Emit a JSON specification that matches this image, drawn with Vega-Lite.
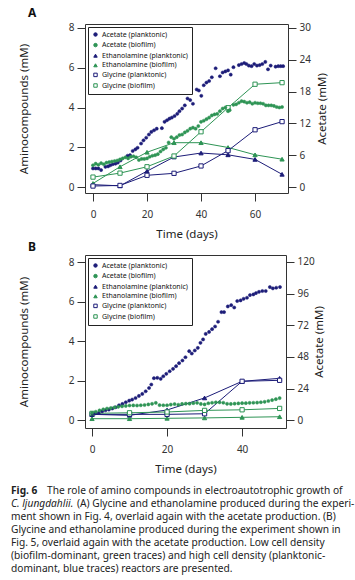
{
  "$schema": "https://vega.github.io/schema/vega-lite/v6.json",
  "background": "white",
  "padding": {"left": 11, "top": 6, "right": 5, "bottom": 3},
  "spacing": 0,
  "datasets": {
    "acetA": [
      {"series":"Acetate (planktonic)","day":0,"value":3.5},{"series":"Acetate (planktonic)","day":1,"value":3.5},{"series":"Acetate (planktonic)","day":2,"value":3.5},{"series":"Acetate (planktonic)","day":3,"value":3.2},{"series":"Acetate (planktonic)","day":4.6,"value":3.8},{"series":"Acetate (planktonic)","day":5.6,"value":3.9},{"series":"Acetate (planktonic)","day":6.4,"value":4.1},{"series":"Acetate (planktonic)","day":7.3,"value":4.3},{"series":"Acetate (planktonic)","day":8.3,"value":4.4},{"series":"Acetate (planktonic)","day":9.2,"value":4.6},{"series":"Acetate (planktonic)","day":10.2,"value":5.0},{"series":"Acetate (planktonic)","day":12.8,"value":5.9},{"series":"Acetate (planktonic)","day":13.7,"value":6.0},{"series":"Acetate (planktonic)","day":14.7,"value":6.8},{"series":"Acetate (planktonic)","day":15.7,"value":7.1},{"series":"Acetate (planktonic)","day":16.5,"value":7.4},{"series":"Acetate (planktonic)","day":17.8,"value":8.2},{"series":"Acetate (planktonic)","day":18.7,"value":8.8},{"series":"Acetate (planktonic)","day":19.7,"value":9.3},{"series":"Acetate (planktonic)","day":20.7,"value":9.9},{"series":"Acetate (planktonic)","day":21.6,"value":10.4},{"series":"Acetate (planktonic)","day":22.6,"value":10.7},{"series":"Acetate (planktonic)","day":23.6,"value":11.0},{"series":"Acetate (planktonic)","day":25.5,"value":11.1},{"series":"Acetate (planktonic)","day":26.5,"value":12.3},{"series":"Acetate (planktonic)","day":27.4,"value":12.6},{"series":"Acetate (planktonic)","day":28.3,"value":12.9},{"series":"Acetate (planktonic)","day":29.2,"value":13.1},{"series":"Acetate (planktonic)","day":30.2,"value":13.4},{"series":"Acetate (planktonic)","day":31.2,"value":13.8},{"series":"Acetate (planktonic)","day":32,"value":14.3},{"series":"Acetate (planktonic)","day":33,"value":14.8},{"series":"Acetate (planktonic)","day":34,"value":15.4},{"series":"Acetate (planktonic)","day":35,"value":16.7},{"series":"Acetate (planktonic)","day":36,"value":16.4},{"series":"Acetate (planktonic)","day":37,"value":15.7},{"series":"Acetate (planktonic)","day":38.4,"value":18.4},{"series":"Acetate (planktonic)","day":39.2,"value":18.2},{"series":"Acetate (planktonic)","day":40.1,"value":17.2},{"series":"Acetate (planktonic)","day":41,"value":19.2},{"series":"Acetate (planktonic)","day":42,"value":19.7},{"series":"Acetate (planktonic)","day":43,"value":20.0},{"series":"Acetate (planktonic)","day":44,"value":20.7},{"series":"Acetate (planktonic)","day":45.4,"value":22.4},{"series":"Acetate (planktonic)","day":47,"value":20.9},{"series":"Acetate (planktonic)","day":48,"value":21.6},{"series":"Acetate (planktonic)","day":49,"value":21.8},{"series":"Acetate (planktonic)","day":50,"value":22.0},{"series":"Acetate (planktonic)","day":51,"value":21.2},{"series":"Acetate (planktonic)","day":52,"value":22.6},{"series":"Acetate (planktonic)","day":54,"value":23.0},{"series":"Acetate (planktonic)","day":55,"value":23.2},{"series":"Acetate (planktonic)","day":56,"value":23.4},{"series":"Acetate (planktonic)","day":56.8,"value":23.2},{"series":"Acetate (planktonic)","day":57.7,"value":22.9},{"series":"Acetate (planktonic)","day":58.7,"value":22.8},{"series":"Acetate (planktonic)","day":59.7,"value":23.2},{"series":"Acetate (planktonic)","day":60.7,"value":22.9},{"series":"Acetate (planktonic)","day":61.7,"value":23.0},{"series":"Acetate (planktonic)","day":62.7,"value":23.2},{"series":"Acetate (planktonic)","day":63.8,"value":23.6},{"series":"Acetate (planktonic)","day":64.8,"value":22.2},{"series":"Acetate (planktonic)","day":65.8,"value":22.9},{"series":"Acetate (planktonic)","day":67.6,"value":22.7},{"series":"Acetate (planktonic)","day":68.6,"value":22.8},{"series":"Acetate (planktonic)","day":69.5,"value":22.8},{"series":"Acetate (planktonic)","day":70.4,"value":22.8},
      {"series":"Acetate (biofilm)","day":0,"value":4.1},{"series":"Acetate (biofilm)","day":1,"value":4.4},{"series":"Acetate (biofilm)","day":2,"value":4.2},{"series":"Acetate (biofilm)","day":3,"value":4.5},{"series":"Acetate (biofilm)","day":4,"value":4.3},{"series":"Acetate (biofilm)","day":5,"value":4.6},{"series":"Acetate (biofilm)","day":6,"value":4.7},{"series":"Acetate (biofilm)","day":7,"value":4.8},{"series":"Acetate (biofilm)","day":8,"value":4.9},{"series":"Acetate (biofilm)","day":9,"value":5.0},{"series":"Acetate (biofilm)","day":10,"value":5.2},{"series":"Acetate (biofilm)","day":11,"value":5.4},{"series":"Acetate (biofilm)","day":12,"value":5.6},{"series":"Acetate (biofilm)","day":13,"value":5.4},{"series":"Acetate (biofilm)","day":14,"value":5.7},{"series":"Acetate (biofilm)","day":15,"value":5.8},{"series":"Acetate (biofilm)","day":16,"value":5.6},{"series":"Acetate (biofilm)","day":17,"value":5.1},{"series":"Acetate (biofilm)","day":18,"value":5.3},{"series":"Acetate (biofilm)","day":19,"value":5.3},{"series":"Acetate (biofilm)","day":20,"value":5.4},{"series":"Acetate (biofilm)","day":21,"value":5.7},{"series":"Acetate (biofilm)","day":22,"value":5.9},{"series":"Acetate (biofilm)","day":23,"value":6.0},{"series":"Acetate (biofilm)","day":24,"value":6.2},{"series":"Acetate (biofilm)","day":25,"value":6.7},{"series":"Acetate (biofilm)","day":26,"value":7.1},{"series":"Acetate (biofilm)","day":27,"value":7.4},{"series":"Acetate (biofilm)","day":28,"value":8.4},{"series":"Acetate (biofilm)","day":29,"value":9.4},{"series":"Acetate (biofilm)","day":30,"value":9.1},{"series":"Acetate (biofilm)","day":31,"value":9.4},{"series":"Acetate (biofilm)","day":32,"value":9.8},{"series":"Acetate (biofilm)","day":33,"value":9.9},{"series":"Acetate (biofilm)","day":34,"value":10.3},{"series":"Acetate (biofilm)","day":35,"value":10.6},{"series":"Acetate (biofilm)","day":36,"value":11.0},{"series":"Acetate (biofilm)","day":37,"value":11.2},{"series":"Acetate (biofilm)","day":38,"value":11.0},{"series":"Acetate (biofilm)","day":39,"value":11.5},{"series":"Acetate (biofilm)","day":40,"value":12.3},{"series":"Acetate (biofilm)","day":41,"value":12.5},{"series":"Acetate (biofilm)","day":42,"value":12.8},{"series":"Acetate (biofilm)","day":43,"value":13.1},{"series":"Acetate (biofilm)","day":44,"value":13.5},{"series":"Acetate (biofilm)","day":45,"value":13.7},{"series":"Acetate (biofilm)","day":46,"value":13.8},{"series":"Acetate (biofilm)","day":47,"value":14.3},{"series":"Acetate (biofilm)","day":48,"value":14.8},{"series":"Acetate (biofilm)","day":49,"value":15.0},{"series":"Acetate (biofilm)","day":50,"value":14.3},{"series":"Acetate (biofilm)","day":50.6,"value":14.5},{"series":"Acetate (biofilm)","day":52,"value":15.5},{"series":"Acetate (biofilm)","day":53,"value":15.6},{"series":"Acetate (biofilm)","day":54,"value":15.9},{"series":"Acetate (biofilm)","day":55,"value":16.2},{"series":"Acetate (biofilm)","day":56,"value":16.1},{"series":"Acetate (biofilm)","day":57,"value":15.9},{"series":"Acetate (biofilm)","day":58,"value":16.0},{"series":"Acetate (biofilm)","day":59,"value":15.7},{"series":"Acetate (biofilm)","day":60,"value":15.9},{"series":"Acetate (biofilm)","day":61,"value":15.8},{"series":"Acetate (biofilm)","day":62,"value":15.8},{"series":"Acetate (biofilm)","day":63,"value":15.7},{"series":"Acetate (biofilm)","day":64,"value":15.4},{"series":"Acetate (biofilm)","day":65,"value":15.4},{"series":"Acetate (biofilm)","day":66,"value":15.4},{"series":"Acetate (biofilm)","day":67,"value":15.3},{"series":"Acetate (biofilm)","day":68,"value":15.1},{"series":"Acetate (biofilm)","day":69,"value":15.0},{"series":"Acetate (biofilm)","day":70,"value":15.1}
    ],
    "aminoA": [
      {"series":"Ethanolamine (planktonic)","day":0,"value":0.12},{"series":"Ethanolamine (planktonic)","day":10,"value":0.06},{"series":"Ethanolamine (planktonic)","day":20,"value":0.8},{"series":"Ethanolamine (planktonic)","day":30,"value":1.51},{"series":"Ethanolamine (planktonic)","day":40,"value":1.71},{"series":"Ethanolamine (planktonic)","day":50,"value":1.62},{"series":"Ethanolamine (planktonic)","day":60,"value":1.39},{"series":"Ethanolamine (planktonic)","day":70,"value":0.64},
      {"series":"Ethanolamine (biofilm)","day":0,"value":0.18},{"series":"Ethanolamine (biofilm)","day":10,"value":1.02},{"series":"Ethanolamine (biofilm)","day":20,"value":1.75},{"series":"Ethanolamine (biofilm)","day":30,"value":2.23},{"series":"Ethanolamine (biofilm)","day":40,"value":2.23},{"series":"Ethanolamine (biofilm)","day":50,"value":1.99},{"series":"Ethanolamine (biofilm)","day":60,"value":1.62},{"series":"Ethanolamine (biofilm)","day":70,"value":1.4},
      {"series":"Glycine (planktonic)","day":0,"value":0.05},{"series":"Glycine (planktonic)","day":10,"value":0.08},{"series":"Glycine (planktonic)","day":20,"value":0.59},{"series":"Glycine (planktonic)","day":30,"value":0.69},{"series":"Glycine (planktonic)","day":40,"value":1.06},{"series":"Glycine (planktonic)","day":50,"value":1.83},{"series":"Glycine (planktonic)","day":60,"value":2.88},{"series":"Glycine (planktonic)","day":70,"value":3.29},
      {"series":"Glycine (biofilm)","day":0,"value":0.5},{"series":"Glycine (biofilm)","day":10,"value":0.7},{"series":"Glycine (biofilm)","day":20,"value":1.02},{"series":"Glycine (biofilm)","day":30,"value":1.56},{"series":"Glycine (biofilm)","day":40,"value":2.78},{"series":"Glycine (biofilm)","day":50,"value":3.99},{"series":"Glycine (biofilm)","day":60,"value":5.17},{"series":"Glycine (biofilm)","day":70,"value":5.25}
    ],
    "acetB": [
      {"series":"Acetate (planktonic)","day":0.1,"value":4.8},{"series":"Acetate (planktonic)","day":0.9,"value":5.3},{"series":"Acetate (planktonic)","day":1.8,"value":5.6},{"series":"Acetate (planktonic)","day":2.7,"value":6.8},{"series":"Acetate (planktonic)","day":3.6,"value":7.6},{"series":"Acetate (planktonic)","day":4.5,"value":8.1},{"series":"Acetate (planktonic)","day":5.4,"value":8.9},{"series":"Acetate (planktonic)","day":6.3,"value":9.9},{"series":"Acetate (planktonic)","day":7.2,"value":11.4},{"series":"Acetate (planktonic)","day":8.1,"value":12.4},{"series":"Acetate (planktonic)","day":9,"value":13.7},{"series":"Acetate (planktonic)","day":9.9,"value":14.9},{"series":"Acetate (planktonic)","day":10.7,"value":15.7},{"series":"Acetate (planktonic)","day":11.6,"value":16.9},{"series":"Acetate (planktonic)","day":12.5,"value":18.5},{"series":"Acetate (planktonic)","day":13.4,"value":20.0},{"series":"Acetate (planktonic)","day":14.3,"value":22.0},{"series":"Acetate (planktonic)","day":15.2,"value":24.5},{"series":"Acetate (planktonic)","day":15.8,"value":27.1},{"series":"Acetate (planktonic)","day":16.5,"value":31.9},{"series":"Acetate (planktonic)","day":17.4,"value":32.2},{"series":"Acetate (planktonic)","day":18.3,"value":31.4},{"series":"Acetate (planktonic)","day":19,"value":33.4},{"series":"Acetate (planktonic)","day":19.8,"value":35.2},{"series":"Acetate (planktonic)","day":20.7,"value":37.2},{"series":"Acetate (planktonic)","day":21.6,"value":39.0},{"series":"Acetate (planktonic)","day":22.4,"value":41.0},{"series":"Acetate (planktonic)","day":23.2,"value":43.3},{"series":"Acetate (planktonic)","day":24.1,"value":45.3},{"series":"Acetate (planktonic)","day":24.9,"value":47.8},{"series":"Acetate (planktonic)","day":25.9,"value":52.4},{"series":"Acetate (planktonic)","day":26.6,"value":50.6},{"series":"Acetate (planktonic)","day":27.4,"value":52.9},{"series":"Acetate (planktonic)","day":28.2,"value":54.9},{"series":"Acetate (planktonic)","day":28.9,"value":58.7},{"series":"Acetate (planktonic)","day":29.6,"value":61.3},{"series":"Acetate (planktonic)","day":30.3,"value":65.5},{"series":"Acetate (planktonic)","day":31.2,"value":67.0},{"series":"Acetate (planktonic)","day":32,"value":69.1},{"series":"Acetate (planktonic)","day":32.8,"value":71.1},{"series":"Acetate (planktonic)","day":33.6,"value":74.7},{"series":"Acetate (planktonic)","day":34.5,"value":82.0},{"series":"Acetate (planktonic)","day":35.2,"value":82.0},{"series":"Acetate (planktonic)","day":36.2,"value":86.3},{"series":"Acetate (planktonic)","day":37.1,"value":87.3},{"series":"Acetate (planktonic)","day":37.9,"value":85.5},{"series":"Acetate (planktonic)","day":38.7,"value":90.4},{"series":"Acetate (planktonic)","day":39.6,"value":90.9},{"series":"Acetate (planktonic)","day":40.4,"value":92.1},{"series":"Acetate (planktonic)","day":41.3,"value":92.9},{"series":"Acetate (planktonic)","day":42.1,"value":94.9},{"series":"Acetate (planktonic)","day":43,"value":95.4},{"series":"Acetate (planktonic)","day":43.7,"value":96.4},{"series":"Acetate (planktonic)","day":44.5,"value":97.4},{"series":"Acetate (planktonic)","day":45.4,"value":98.0},{"series":"Acetate (planktonic)","day":46.3,"value":98.0},{"series":"Acetate (planktonic)","day":47.4,"value":101.0},{"series":"Acetate (planktonic)","day":48.2,"value":100.0},{"series":"Acetate (planktonic)","day":49.1,"value":100.5},{"series":"Acetate (planktonic)","day":50.1,"value":101.0},
      {"series":"Acetate (biofilm)","day":0,"value":5.6},{"series":"Acetate (biofilm)","day":1,"value":6.5},{"series":"Acetate (biofilm)","day":2,"value":7.5},{"series":"Acetate (biofilm)","day":3,"value":8.3},{"series":"Acetate (biofilm)","day":4,"value":8.9},{"series":"Acetate (biofilm)","day":5,"value":9.3},{"series":"Acetate (biofilm)","day":6,"value":9.8},{"series":"Acetate (biofilm)","day":7,"value":10.2},{"series":"Acetate (biofilm)","day":8,"value":10.6},{"series":"Acetate (biofilm)","day":9,"value":10.9},{"series":"Acetate (biofilm)","day":10,"value":11.2},{"series":"Acetate (biofilm)","day":11,"value":11.3},{"series":"Acetate (biofilm)","day":12,"value":11.2},{"series":"Acetate (biofilm)","day":13,"value":11.4},{"series":"Acetate (biofilm)","day":14,"value":11.6},{"series":"Acetate (biofilm)","day":15,"value":12.0},{"series":"Acetate (biofilm)","day":16,"value":12.5},{"series":"Acetate (biofilm)","day":17,"value":13.2},{"series":"Acetate (biofilm)","day":18,"value":11.5},{"series":"Acetate (biofilm)","day":19,"value":11.4},{"series":"Acetate (biofilm)","day":20,"value":11.4},{"series":"Acetate (biofilm)","day":21,"value":11.9},{"series":"Acetate (biofilm)","day":22,"value":12.3},{"series":"Acetate (biofilm)","day":23,"value":11.8},{"series":"Acetate (biofilm)","day":24,"value":12.4},{"series":"Acetate (biofilm)","day":25,"value":12.6},{"series":"Acetate (biofilm)","day":26,"value":12.6},{"series":"Acetate (biofilm)","day":27,"value":13.0},{"series":"Acetate (biofilm)","day":28,"value":13.2},{"series":"Acetate (biofilm)","day":29,"value":12.4},{"series":"Acetate (biofilm)","day":30,"value":12.0},{"series":"Acetate (biofilm)","day":31,"value":12.9},{"series":"Acetate (biofilm)","day":32,"value":13.3},{"series":"Acetate (biofilm)","day":33,"value":13.6},{"series":"Acetate (biofilm)","day":34,"value":13.6},{"series":"Acetate (biofilm)","day":35,"value":13.3},{"series":"Acetate (biofilm)","day":36,"value":12.5},{"series":"Acetate (biofilm)","day":37,"value":12.4},{"series":"Acetate (biofilm)","day":38,"value":12.6},{"series":"Acetate (biofilm)","day":39,"value":12.8},{"series":"Acetate (biofilm)","day":40,"value":13.0},{"series":"Acetate (biofilm)","day":41,"value":13.0},{"series":"Acetate (biofilm)","day":42,"value":13.2},{"series":"Acetate (biofilm)","day":43,"value":13.3},{"series":"Acetate (biofilm)","day":44,"value":13.4},{"series":"Acetate (biofilm)","day":45,"value":13.7},{"series":"Acetate (biofilm)","day":46,"value":14.0},{"series":"Acetate (biofilm)","day":47,"value":14.6},{"series":"Acetate (biofilm)","day":48,"value":15.3},{"series":"Acetate (biofilm)","day":49,"value":16.0},{"series":"Acetate (biofilm)","day":50,"value":16.8}
    ],
    "aminoB": [
      {"series":"Ethanolamine (planktonic)","day":0,"value":0.3},{"series":"Ethanolamine (planktonic)","day":10,"value":0.25},{"series":"Ethanolamine (planktonic)","day":20,"value":0.52},{"series":"Ethanolamine (planktonic)","day":30,"value":1.13},{"series":"Ethanolamine (planktonic)","day":40,"value":1.97},{"series":"Ethanolamine (planktonic)","day":50,"value":2.12},
      {"series":"Ethanolamine (biofilm)","day":0,"value":0.08},{"series":"Ethanolamine (biofilm)","day":10,"value":0.08},{"series":"Ethanolamine (biofilm)","day":20,"value":0.1},{"series":"Ethanolamine (biofilm)","day":30,"value":0.12},{"series":"Ethanolamine (biofilm)","day":40,"value":0.15},{"series":"Ethanolamine (biofilm)","day":50,"value":0.18},
      {"series":"Glycine (planktonic)","day":0,"value":0.3},{"series":"Glycine (planktonic)","day":10,"value":0.3},{"series":"Glycine (planktonic)","day":20,"value":0.3},{"series":"Glycine (planktonic)","day":30,"value":0.33},{"series":"Glycine (planktonic)","day":40,"value":1.97},{"series":"Glycine (planktonic)","day":50,"value":2.02},
      {"series":"Glycine (biofilm)","day":0,"value":0.35},{"series":"Glycine (biofilm)","day":10,"value":0.38},{"series":"Glycine (biofilm)","day":20,"value":0.42},{"series":"Glycine (biofilm)","day":30,"value":0.5},{"series":"Glycine (biofilm)","day":40,"value":0.53},{"series":"Glycine (biofilm)","day":50,"value":0.6}
    ],
    "caption": [
      {"line":1,"part":"head","text":"Fig. 6"},
      {"line":1,"part":"rest1","text":"The role of amino compounds in electroautotrophic growth of"},
      {"line":2,"part":"species","text":"C. ljungdahlii."},
      {"line":2,"part":"rest2","text":"(A) Glycine and ethanolamine produced during the experi-"},
      {"line":3,"part":"body","text":"ment shown in Fig. 4, overlaid again with the acetate production. (B)"},
      {"line":4,"part":"body","text":"Glycine and ethanolamine produced during the experiment shown in"},
      {"line":5,"part":"body","text":"Fig. 5, overlaid again with the acetate production. Low cell density"},
      {"line":6,"part":"body","text":"(biofilm-dominant, green traces) and high cell density (planktonic-"},
      {"line":7,"part":"body","text":"dominant, blue traces) reactors are presented."}
    ]
  },
  "vconcat": [
    {
      "title": {"text": "A", "dx": -57, "offset": 3, "frame": "group"},
      "width": 203, "height": 169,
      "layer": [
        {
          "data": {"name": "aminoA"},
          "layer": [
            {
              "mark": {"type": "line", "strokeWidth": 1},
              "encoding": {
                "x": {"field": "day", "type": "quantitative", "scale": {"domain": [-2.96, 72.2], "nice": false, "zero": false}, "axis": {"values": [0, 20, 40, 60], "title": "Time (days)", "labelPadding": 8, "titlePadding": 9}},
                "y": {"field": "value", "type": "quantitative", "scale": {"domain": [-0.3, 8.2], "nice": false, "zero": false}, "axis": {"orient": "left", "values": [0, 2, 4, 6, 8], "title": "Aminocompounds (mM)", "titlePadding": 39}},
                "color": {"field": "series", "type": "nominal", "scale": {"domain": ["Ethanolamine (planktonic)", "Ethanolamine (biofilm)", "Glycine (planktonic)", "Glycine (biofilm)"], "range": ["#1c1c78", "#2e9455", "#1c1c78", "#2e9455"]}, "legend": null}
              }
            },
            {
              "mark": {"type": "point", "filled": true, "size": 18, "strokeWidth": 1, "opacity": 1},
              "encoding": {
                "x": {"field": "day", "type": "quantitative", "scale": {"domain": [-2.96, 72.2], "nice": false, "zero": false}, "axis": {"values": [0, 20, 40, 60], "title": "Time (days)", "labelPadding": 8, "titlePadding": 9}},
                "y": {"field": "value", "type": "quantitative", "scale": {"domain": [-0.3, 8.2], "nice": false, "zero": false}, "axis": {"orient": "left", "values": [0, 2, 4, 6, 8], "title": "Aminocompounds (mM)", "titlePadding": 39}},
                "fill": {"field": "series", "type": "nominal", "scale": {"domain": ["Acetate (planktonic)", "Acetate (biofilm)", "Ethanolamine (planktonic)", "Ethanolamine (biofilm)", "Glycine (planktonic)", "Glycine (biofilm)"], "range": ["#1c1c78", "#2e9455", "#1c1c78", "#2e9455", "#ffffff", "#ffffff"]}, "legend": {"title": null}},
                "stroke": {"field": "series", "type": "nominal", "scale": {"domain": ["Acetate (planktonic)", "Acetate (biofilm)", "Ethanolamine (planktonic)", "Ethanolamine (biofilm)", "Glycine (planktonic)", "Glycine (biofilm)"], "range": ["#1c1c78", "#2e9455", "#1c1c78", "#2e9455", "#1c1c78", "#2e9455"]}, "legend": {"title": null}},
                "shape": {"field": "series", "type": "nominal", "scale": {"domain": ["Acetate (planktonic)", "Acetate (biofilm)", "Ethanolamine (planktonic)", "Ethanolamine (biofilm)", "Glycine (planktonic)", "Glycine (biofilm)"], "range": ["circle", "circle", "triangle-up", "triangle-up", "square", "square"]}, "legend": {"title": null}}
              }
            }
          ]
        },
        {
          "data": {"name": "acetA"},
          "mark": {"type": "point", "filled": true, "size": 10, "strokeWidth": 0.5, "opacity": 1},
          "encoding": {
            "x": {"field": "day", "type": "quantitative", "scale": {"domain": [-2.96, 72.2], "nice": false, "zero": false}, "axis": {"values": [0, 20, 40, 60], "title": "Time (days)", "labelPadding": 8, "titlePadding": 9}},
            "y": {"field": "value", "type": "quantitative", "scale": {"domain": [-1.13, 30.75], "nice": false, "zero": false}, "axis": {"orient": "right", "values": [0, 6, 12, 18, 24, 30], "title": "Acetate (mM)", "titleAngle": 270, "titlePadding": 17}},
            "fill": {"field": "series", "type": "nominal", "scale": {"domain": ["Acetate (planktonic)", "Acetate (biofilm)", "Ethanolamine (planktonic)", "Ethanolamine (biofilm)", "Glycine (planktonic)", "Glycine (biofilm)"], "range": ["#1c1c78", "#2e9455", "#1c1c78", "#2e9455", "#ffffff", "#ffffff"]}, "legend": {"title": null}},
            "stroke": {"field": "series", "type": "nominal", "scale": {"domain": ["Acetate (planktonic)", "Acetate (biofilm)", "Ethanolamine (planktonic)", "Ethanolamine (biofilm)", "Glycine (planktonic)", "Glycine (biofilm)"], "range": ["#1c1c78", "#2e9455", "#1c1c78", "#2e9455", "#1c1c78", "#2e9455"]}, "legend": {"title": null}},
            "shape": {"field": "series", "type": "nominal", "scale": {"domain": ["Acetate (planktonic)", "Acetate (biofilm)", "Ethanolamine (planktonic)", "Ethanolamine (biofilm)", "Glycine (planktonic)", "Glycine (biofilm)"], "range": ["circle", "circle", "triangle-up", "triangle-up", "square", "square"]}, "legend": {"title": null}}
          }
        }
      ],
      "resolve": {"scale": {"y": "independent"}}
    },
    {
      "title": {"text": "B", "dx": -57, "offset": 1, "frame": "group"},
      "width": 201, "height": 173,
      "layer": [
        {
          "data": {"name": "aminoB"},
          "layer": [
            {
              "mark": {"type": "line", "strokeWidth": 1},
              "encoding": {
                "x": {"field": "day", "type": "quantitative", "scale": {"domain": [-1.87, 51.7], "nice": false, "zero": false}, "axis": {"values": [0, 20, 40], "title": "Time (days)", "labelPadding": 8, "titlePadding": 9}},
                "y": {"field": "value", "type": "quantitative", "scale": {"domain": [-0.39, 8.354], "nice": false, "zero": false}, "axis": {"orient": "left", "values": [0, 2, 4, 6, 8], "title": "Aminocompounds (mM)", "titlePadding": 39}},
                "color": {"field": "series", "type": "nominal", "scale": {"domain": ["Ethanolamine (planktonic)", "Ethanolamine (biofilm)", "Glycine (planktonic)", "Glycine (biofilm)"], "range": ["#1c1c78", "#2e9455", "#1c1c78", "#2e9455"]}, "legend": null}
              }
            },
            {
              "mark": {"type": "point", "filled": true, "size": 18, "strokeWidth": 1, "opacity": 1},
              "encoding": {
                "x": {"field": "day", "type": "quantitative", "scale": {"domain": [-1.87, 51.7], "nice": false, "zero": false}, "axis": {"values": [0, 20, 40], "title": "Time (days)", "labelPadding": 8, "titlePadding": 9}},
                "y": {"field": "value", "type": "quantitative", "scale": {"domain": [-0.39, 8.354], "nice": false, "zero": false}, "axis": {"orient": "left", "values": [0, 2, 4, 6, 8], "title": "Aminocompounds (mM)", "titlePadding": 39}},
                "fill": {"field": "series", "type": "nominal", "scale": {"domain": ["Acetate (planktonic)", "Acetate (biofilm)", "Ethanolamine (planktonic)", "Ethanolamine (biofilm)", "Glycine (planktonic)", "Glycine (biofilm)"], "range": ["#1c1c78", "#2e9455", "#1c1c78", "#2e9455", "#ffffff", "#ffffff"]}, "legend": {"title": null}},
                "stroke": {"field": "series", "type": "nominal", "scale": {"domain": ["Acetate (planktonic)", "Acetate (biofilm)", "Ethanolamine (planktonic)", "Ethanolamine (biofilm)", "Glycine (planktonic)", "Glycine (biofilm)"], "range": ["#1c1c78", "#2e9455", "#1c1c78", "#2e9455", "#1c1c78", "#2e9455"]}, "legend": {"title": null}},
                "shape": {"field": "series", "type": "nominal", "scale": {"domain": ["Acetate (planktonic)", "Acetate (biofilm)", "Ethanolamine (planktonic)", "Ethanolamine (biofilm)", "Glycine (planktonic)", "Glycine (biofilm)"], "range": ["circle", "circle", "triangle-up", "triangle-up", "square", "square"]}, "legend": {"title": null}}
              }
            }
          ]
        },
        {
          "data": {"name": "acetB"},
          "mark": {"type": "point", "filled": true, "size": 10, "strokeWidth": 0.5, "opacity": 1},
          "encoding": {
            "x": {"field": "day", "type": "quantitative", "scale": {"domain": [-1.87, 51.7], "nice": false, "zero": false}, "axis": {"values": [0, 20, 40], "title": "Time (days)", "labelPadding": 8, "titlePadding": 9}},
            "y": {"field": "value", "type": "quantitative", "scale": {"domain": [-5.85, 125.3], "nice": false, "zero": false}, "axis": {"orient": "right", "values": [0, 24, 48, 72, 96, 120], "title": "Acetate (mM)", "titleAngle": 270, "titlePadding": 10}},
            "fill": {"field": "series", "type": "nominal", "scale": {"domain": ["Acetate (planktonic)", "Acetate (biofilm)", "Ethanolamine (planktonic)", "Ethanolamine (biofilm)", "Glycine (planktonic)", "Glycine (biofilm)"], "range": ["#1c1c78", "#2e9455", "#1c1c78", "#2e9455", "#ffffff", "#ffffff"]}, "legend": {"title": null}},
            "stroke": {"field": "series", "type": "nominal", "scale": {"domain": ["Acetate (planktonic)", "Acetate (biofilm)", "Ethanolamine (planktonic)", "Ethanolamine (biofilm)", "Glycine (planktonic)", "Glycine (biofilm)"], "range": ["#1c1c78", "#2e9455", "#1c1c78", "#2e9455", "#1c1c78", "#2e9455"]}, "legend": {"title": null}},
            "shape": {"field": "series", "type": "nominal", "scale": {"domain": ["Acetate (planktonic)", "Acetate (biofilm)", "Ethanolamine (planktonic)", "Ethanolamine (biofilm)", "Glycine (planktonic)", "Glycine (biofilm)"], "range": ["circle", "circle", "triangle-up", "triangle-up", "square", "square"]}, "legend": {"title": null}}
          }
        }
      ],
      "resolve": {"scale": {"y": "independent"}}
    },
    {
      "width": 262, "height": 94,
      "view": {"stroke": null},
      "data": {"name": "caption"},
      "encoding": {
        "x": {"datum": 0, "type": "quantitative", "scale": {"domain": [0, 1]}, "axis": null},
        "y": {"field": "line", "type": "quantitative", "scale": {"domain": [-0.23, 7], "reverse": true}, "axis": null},
        "text": {"field": "text"}
      },
      "layer": [
        {"transform": [{"filter": "datum.part === 'head'"}], "mark": {"type": "text", "align": "left", "baseline": "middle", "dx": -74, "font": "Noto Sans", "fontSize": 10.2, "fontWeight": "bold", "color": "#222"}},
        {"transform": [{"filter": "datum.part === 'species'"}], "mark": {"type": "text", "align": "left", "baseline": "middle", "dx": -74, "font": "Noto Sans", "fontSize": 10.2, "fontStyle": "italic", "color": "#222"}},
        {"transform": [{"filter": "datum.part === 'rest1'"}], "mark": {"type": "text", "align": "left", "baseline": "middle", "dx": -38, "font": "Noto Sans", "fontSize": 10.2, "color": "#222"}},
        {"transform": [{"filter": "datum.part === 'rest2'"}], "mark": {"type": "text", "align": "left", "baseline": "middle", "dx": -8, "font": "Noto Sans", "fontSize": 10.2, "color": "#222"}},
        {"transform": [{"filter": "datum.part === 'body'"}], "mark": {"type": "text", "align": "left", "baseline": "middle", "dx": -74, "font": "Noto Sans", "fontSize": 10.2, "color": "#222"}}
      ]
    }
  ],
  "resolve": {
    "scale": {"fill": "independent", "stroke": "independent", "shape": "independent", "color": "independent"},
    "legend": {"fill": "independent", "stroke": "independent", "shape": "independent"}
  },
  "config": {
    "font": "Noto Sans",
    "view": {"stroke": "#333", "strokeWidth": 1},
    "axis": {"grid": false, "domain": false, "tickColor": "#333", "tickSize": 8, "labelFontSize": 10, "labelColor": "#333", "labelPadding": 3, "titleFontSize": 11.5, "titleFontWeight": "normal", "titleColor": "#222", "labelFont": "Noto Sans", "titleFont": "Noto Sans"},
    "legend": {"orient": "top-left", "offset": 3, "strokeColor": "#222", "fillColor": "white", "padding": 4, "labelFont": "Noto Sans", "labelFontSize": 7, "labelColor": "#111", "labelLimit": 200, "symbolSize": 12, "rowPadding": 1.6, "labelOffset": 3, "symbolStrokeWidth": 1, "cornerRadius": 0},
    "title": {"fontSize": 12, "fontWeight": "bold", "anchor": "start", "color": "#111", "font": "Noto Sans"}
  }
}
